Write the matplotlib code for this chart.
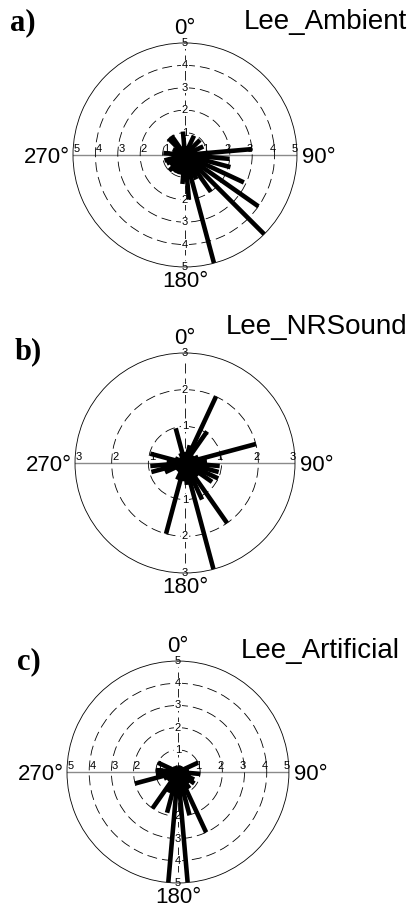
import numpy as np
import matplotlib
matplotlib.use('Agg')
import matplotlib.pyplot as plt

plt.rcParams['font.family'] = ['Liberation Sans', 'DejaVu Sans']

# bin centres, compass degrees (0 = north, clockwise)
bins = [5, 15, 25, 35, 45, 55, 65, 75, 85, 95, 105, 115,
        125, 135, 145, 155, 165, 175, 185, 195, 205, 215, 225, 235,
        245, 255, 265, 275, 285, 295, 305, 315, 325, 335, 345, 355]

ambient = [0.4, 0.4, 0.95, 0.4, 0.95, 0.4, 0.9, 0.5, 3.0, 2.0, 2.1, 2.9,
           4.0, 5.2, 2.0, 1.2, 5.0, 2.0, 1.3, 0.9, 0.9, 0.9, 1.0, 0.8,
           0.9, 0.95, 0.6, 0.97, 0.4, 0.6, 0.4, 1.05, 1.05, 0.4, 0.3, 1.05]

nrsound = [0.3, 0.5, 2.0, 1.05, 0.3, 0.3, 0.4, 2.0, 0.6, 0.95, 0.95, 1.0,
           0.9, 0.5, 2.0, 1.1, 3.0, 0.6, 0.5, 2.0, 0.5, 0.3, 0.3, 0.3,
           0.6, 0.95, 0.95, 0.5, 0.98, 0.3, 0.2, 0.2, 0.2, 0.3, 0.98, 0.3]

artificial = [0.2, 0.2, 0.3, 0.3, 0.3, 0.3, 1.0, 0.4, 0.5, 1.0, 0.6, 0.8,
              0.9, 0.7, 0.9, 3.0, 2.0, 5.0, 5.2, 1.9, 1.0, 2.0, 0.5, 0.6,
              0.7, 2.0, 1.0, 1.0, 0.5, 1.0, 0.3, 0.2, 0.2, 0.3, 0.2, 0.2]

titles = ['Lee_Ambient', 'Lee_NRSound', 'Lee_Artificial']
letters = ['a)', 'b)', 'c)']
rmaxes = [5, 3, 5]
dir_angles = [0, 90, 180, 270]
dir_labels = ['0°', '90°', '180°', '270°']

# layout in figure fractions (axes box, letter xy, title xy)
boxes = [[0.1776, 0.7079, 0.545, 0.2451],
         [0.1825, 0.3731, 0.5353, 0.2407],
         [0.1630, 0.0339, 0.5400, 0.2429]]
letter_xy = [(0.024, 0.9748), (0.036, 0.6149), (0.041, 0.2757)]
title_xy = [(0.990, 0.9754), (0.990, 0.6422), (0.973, 0.2877)]

DASH = (0, (12, 6))
# offset (points) and alignment of the direction labels
dir_style = {0: ((0, 3), 'center', 'bottom'),
             90: ((3.5, -1.5), 'left', 'center'),
             180: ((0, -3), 'center', 'top'),
             270: ((-2, -1.5), 'right', 'center')}


def draw_rose(ax, values, rmax):
    ax.set_theta_zero_location('N')
    ax.set_theta_direction(-1)
    ax.set_ylim(0, rmax)
    ax.set_rgrids(list(range(1, rmax)), labels=[])
    ax.yaxis.grid(True, color='k', lw=0.6, ls=DASH)
    ax.set_thetagrids(dir_angles, [''] * 4)
    for tick in ax.xaxis.get_major_ticks():
        loc = np.rad2deg(tick.get_loc()) % 360
        if abs(loc - 90) < 1 or abs(loc - 270) < 1:
            tick.gridline.set(color='#8a8a8a', lw=1.0, ls='-')
        else:
            tick.gridline.set(color='k', lw=0.6, ls=DASH)
    ax.spines['polar'].set_linewidth(0.6)

    for ang, lab in zip(dir_angles, dir_labels):
        off, ha, va = dir_style[ang]
        ax.annotate(lab, xy=(np.deg2rad(ang), rmax), xytext=off,
                    textcoords='offset points', ha=ha, va=va, fontsize=16,
                    annotation_clip=False)

    # radial labels along the four axes
    for r in range(1, rmax + 1):
        ax.annotate(str(r), xy=(np.deg2rad(90), r), xytext=(-1.5, 0.5),
                    textcoords='offset points', ha='center', va='bottom',
                    fontsize=8, zorder=2)
        ax.annotate(str(r), xy=(np.deg2rad(270), r), xytext=(2.5, 0.5),
                    textcoords='offset points', ha='center', va='bottom',
                    fontsize=8, zorder=2)
        for ang in (0, 180):
            ax.text(np.deg2rad(ang), r, str(r), ha='center', va='center',
                    fontsize=8, zorder=2,
                    bbox=dict(boxstyle='square,pad=0.05', fc='white', ec='none'))

    th = np.deg2rad(bins)
    ax.vlines(th, 0, values, colors='k', lw=3.3, capstyle='butt', zorder=3)


fig = plt.figure(figsize=(4.11, 9.14), dpi=100)
for i, vals in enumerate([ambient, nrsound, artificial]):
    ax = fig.add_axes(boxes[i], projection='polar')
    draw_rose(ax, vals, rmaxes[i])
    fig.text(letter_xy[i][0], letter_xy[i][1], letters[i], ha='left', va='center',
             fontsize=22, fontweight='bold', family='Liberation Serif')
    fig.text(title_xy[i][0], title_xy[i][1], titles[i], ha='right', va='center',
             fontsize=20)

fig.savefig('out.png', dpi=100)
